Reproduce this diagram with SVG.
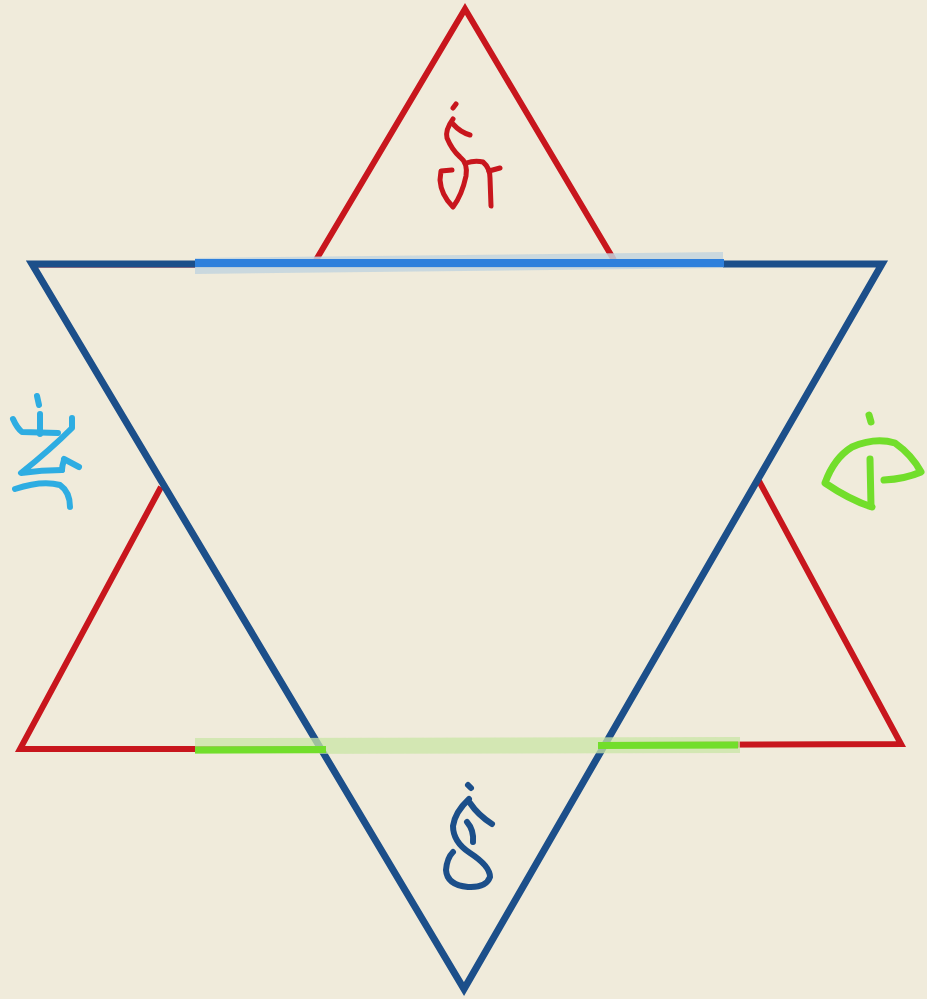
<svg xmlns="http://www.w3.org/2000/svg" width="927" height="999" viewBox="0 0 927 999">
<style>
.red{fill:none;stroke:#c8161d;stroke-width:6;stroke-linejoin:miter;stroke-linecap:butt}
.blue{fill:none;stroke:#1c4f8a;stroke-width:7;stroke-linejoin:miter}
.g{fill:none;stroke-linecap:round;stroke-linejoin:round}
</style>
<rect width="927" height="999" fill="#f0ebdb"/>
<g id="red-triangle">
<path class="red" d="M316,260 L465,9 L614,260"/>
<path class="red" d="M161,487 L20,749 L320,749"/>
<path class="red" d="M759,481 L901,744 L600,745"/>
<line x1="36" y1="266.5" x2="196" y2="266.5" stroke="#c8161d" stroke-width="2"/>
</g>
<g id="blue-triangle">
<path class="blue" d="M32,264 L882,264 L464,989 Z"/>
</g>
<g id="bands">
<path d="M195,258 L723,252 L723,268 L195,274 Z" fill="#c3d5de" opacity="0.85"/>
<line x1="195" y1="263" x2="724" y2="263" stroke="#2e80dc" stroke-width="8"/>
<path d="M195,738 L740,737 L740,753 L195,754 Z" fill="#c9e6a6" opacity="0.75"/>
<line x1="195" y1="750" x2="326" y2="749.5" stroke="#72de2b" stroke-width="7"/>
<line x1="598" y1="745.5" x2="738" y2="745" stroke="#72de2b" stroke-width="7"/>
</g>
<g id="glyph-top" class="g" stroke="#c8161d" stroke-width="5">
<path d="M453,108 L456,104"/>
<path d="M453,119 Q445,130 447,138 Q452,150 460,157 Q468,163 466,176 Q462,195 453,207 Q441,195 440,180 L441,171 L452,170"/>
<path d="M453,124 Q460,132 470,135"/>
<path d="M466,163 Q475,160 483,162 Q490,168 490,178 L491,206"/>
<path d="M489,171 L500,168"/>
</g>
<g id="glyph-left" class="g" stroke="#2eade2" stroke-width="6">
<path d="M37,396 L39,405"/>
<path d="M40,414 L40,434"/>
<path d="M13,419 Q17,428 22,432 L58,433"/>
<path d="M72,418 L72,428 Q50,450 21,473 Q42,470 62,470"/>
<path d="M64,459 L79,467"/>
<path d="M64,460 Q62,466 62,470"/>
<path d="M15,489 Q42,480 60,485 Q70,492 70,507"/>
</g>
<g id="glyph-right" class="g" stroke="#72de2b" stroke-width="7">
<path d="M869,415 L871,422"/>
<path d="M872,507 Q850,500 825,483 Q834,458 852,447 Q875,437 895,443 Q912,455 921,472 Q905,479 884,480"/>
<path d="M870,459 L871,506"/>
</g>
<g id="glyph-bottom" class="g" stroke="#1c4f8a" stroke-width="6">
<path d="M468,785 L471,788"/>
<path d="M469,799 Q455,812 453,826 Q453,842 470,853 Q490,866 490,877 Q486,888 468,887 Q447,885 446,870 Q447,858 453,852"/>
<path d="M470,803 Q478,815 492,824"/>
<path d="M467,822 Q474,830 473,842"/>
</g>
</svg>
